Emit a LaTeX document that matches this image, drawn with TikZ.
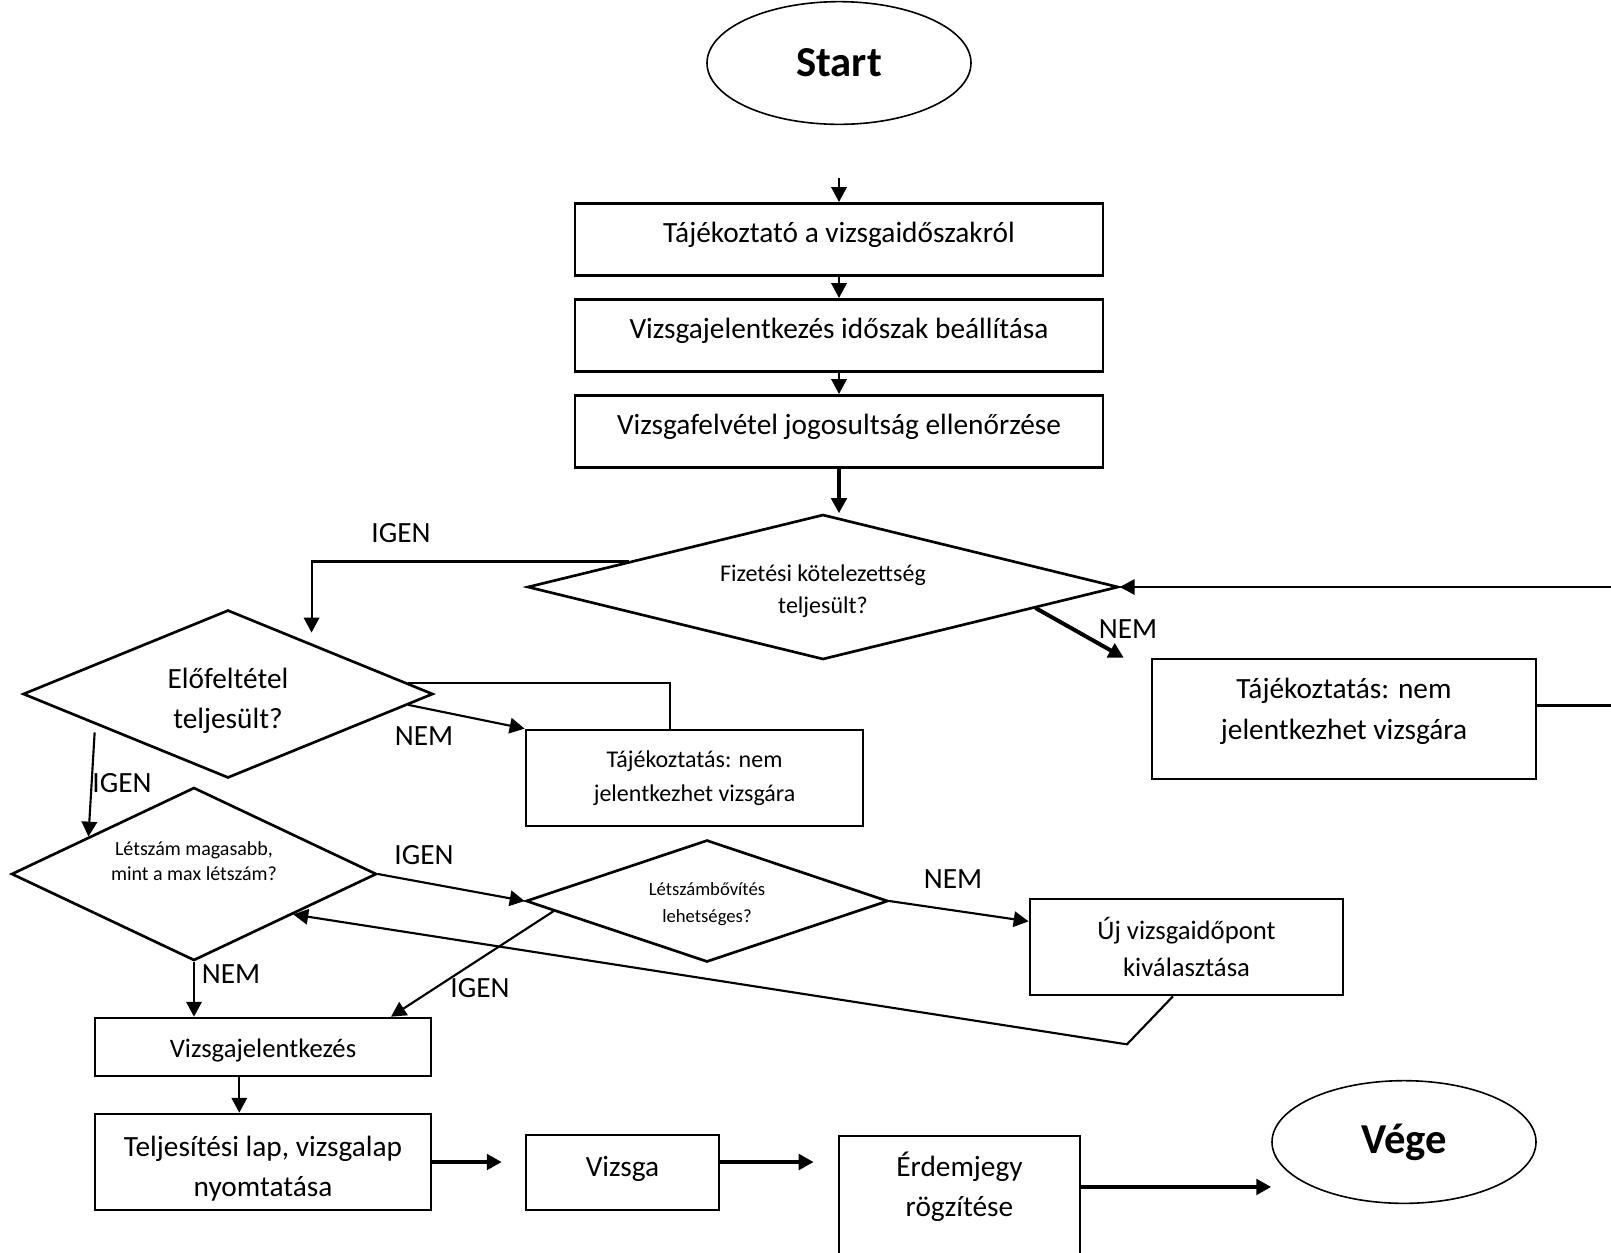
\documentclass[tikz,border=0pt]{standalone}
\usepackage{fontspec}
\setmainfont{Carlito}
\usetikzlibrary{arrows.meta,shapes.geometric,calc,positioning}
\tikzset{>={Triangle[length=5.6pt,width=5.8pt]}}
\tikzset{
  terminal/.style={draw,ellipse,line width=0.6pt,inner sep=0,minimum width=99pt,minimum height=46pt,font=\bfseries\fontsize{16}{19}\selectfont},
  procbox/.style={draw,line width=1pt,inner sep=0,align=center,font=\fontsize{11}{15.4}\selectfont},
  decision/.style={draw,diamond,line width=1pt,inner sep=0,align=center},
  flow/.style={->,line width=0.8pt},
  heavy/.style={->,line width=1.5pt},
  plain/.style={line width=0.8pt},
  lbl/.style={inner sep=0,font=\fontsize{11}{13}\selectfont},
}

\begin{document}
\begin{tikzpicture}[x=0.375pt,y=-0.375pt,node distance=8pt]
  \useasboundingbox (0,0) rectangle (1611,1252);
  % main column
  \node[terminal] (start) at (839,63) {Start};
  \coordinate (stub) at (839,178);
  \node[procbox,minimum width=198pt,minimum height=27pt,text depth=5.5pt,anchor=north] (info) at (839,202) {Tájékoztató a vizsgaidőszakról};
  \node[procbox,minimum width=198pt,minimum height=27pt,text depth=5.5pt,below=of info] (period) {Vizsgajelentkezés időszak beállítása};
  \node[procbox,minimum width=198pt,minimum height=27pt,text depth=5.5pt,below=of period] (check) {Vizsgafelvétel jogosultság ellenőrzése};
  % decisions
  \node[decision,aspect=4.07,minimum width=221.6pt,minimum height=54.4pt,font=\fontsize{9}{12}\selectfont,text height=21.5pt] (pay) at (823,587) {Fizetési kötelezettség\\teljesült?};
  \node[decision,aspect=2.44,minimum width=153.75pt,minimum height=63pt,font=\fontsize{11}{15}\selectfont,text height=27.5pt] (prereq) at (228,694) {Előfeltétel\\teljesült?};
  \node[decision,aspect=2.11,minimum width=136.9pt,minimum height=64.9pt,font=\fontsize{7.5}{9.4}\selectfont,text depth=9.5pt] (limit) at (194,874) {Létszám magasabb,\\mint a max létszám?};
  \node[decision,aspect=2.97,minimum width=135.75pt,minimum height=45.75pt,font=\fontsize{7}{10}\selectfont,text height=17pt] (extend) at (707,901) {Létszámbővítés\\lehetséges?};
  % side boxes
  \node[procbox,minimum width=144pt,minimum height=45pt,text depth=7.5pt] (deny1) at (1344,719) {Tájékoztatás: nem\\jelentkezhet vizsgára};
  \node[procbox,minimum width=126.4pt,minimum height=36pt,font=\fontsize{9}{12.75}\selectfont] (deny0) at (694.5,778) {Tájékoztatás: nem\\jelentkezhet vizsgára};
  \node[procbox,minimum width=117.4pt,minimum height=36pt,font=\fontsize{10}{13.9}\selectfont] (newdate) at (1186.5,947) {Új vizsgaidőpont\\kiválasztása};
  % bottom row
  \node[procbox,minimum width=126pt,minimum height=21.75pt,font=\fontsize{10}{12}\selectfont,text height=9.5pt] (apply) at (263,1047) {Vizsgajelentkezés};
  \node[procbox,minimum width=126pt,minimum height=36pt,font=\fontsize{11}{15}\selectfont,text height=27.5pt] (print) at (263,1162) {Teljesítési lap, vizsgalap\\nyomtatása};
  \node[procbox,minimum width=72.4pt,minimum height=28.1pt,text depth=4.4pt] (exam) at (622.5,1172.5) {Vizsga};
  \node[procbox,minimum width=90.4pt,minimum height=48pt,font=\fontsize{11}{15}\selectfont,text depth=12pt] (grade) at (959.5,1200) {Érdemjegy\\rögzítése};
  \node[terminal] (finish) at (1404,1142) {Vége};
  % labels
  \node[lbl] (igenA) at (401,533) {IGEN};
  \node[lbl] (nemA) at (1128,629) {NEM};
  \node[lbl] (nemB) at (424,736) {NEM};
  \node[lbl] (igenB) at (122,783) {IGEN};
  \node[lbl] (igenC) at (424,855) {IGEN};
  \node[lbl] (nemC) at (231,974) {NEM};
  \node[lbl] (nemD) at (953,879) {NEM};
  \node[lbl] (igenD) at (480,988) {IGEN};
  % connectors
  \draw[flow] (stub) -- (info);
  \draw[flow] (info) -- (period);
  \draw[flow] (period) -- (check);
  \draw[flow,line width=1.2pt] (check) -- (check.south |- pay.north);
  \draw[flow,shorten >=4pt] ($(pay.west)!0.345!(pay.north)$) -| ($(prereq.north)!0.405!(prereq.east)$);
  \draw[heavy] ($(pay.east)!0.284!(pay.south)$) -- ($(deny1.north west)+(-27,0)$);
  \draw[flow] ($(deny1.north east)!0.39!(deny1.south east)$) -- ++(80,0) |- (pay.east);
  \draw[flow] ($(prereq.east)!0.127!(prereq.south)$) -- (deny0.north west);
  \draw[plain] ($(prereq.east)!0.127!(prereq.north)$) -| ($(deny0.north west)!0.427!(deny0.north east)$);
  \draw[flow,shorten <=3pt] ($(prereq.west)!0.356!(prereq.south)$) -- ($(limit.west)!0.426!(limit.north)$);
  \draw[flow] (limit.east) -- (extend.west);
  \draw[flow] (limit.south) -- (limit.south |- apply.north);
  \draw[flow] (extend.east) -- ($(newdate.north west)!0.24!(newdate.south west)$);
  \draw[flow] ($(extend.west)!0.16!(extend.south)$) -- ($(apply.north west)!0.878!(apply.north east)$);
  \draw[flow] ($(newdate.south west)!0.457!(newdate.south east)$) -- ++(-46,48) -- ($(limit.east)!0.46!(limit.south)$);
  \draw[flow] ($(apply.south west)!0.43!(apply.south east)$) coordinate (applyout) -- (applyout |- print.north);
  \draw[heavy,shorten >=8.6pt] (print.east) -- (print.east -| exam.west);
  \draw[heavy,shorten >=9pt] (exam.east |- print.east) -- (print.east -| grade.west);
  \draw[heavy] ($(grade.north east)!0.4!(grade.south east)$) coordinate (gradeout) -- (gradeout -| finish.west);
\end{tikzpicture}
\end{document}
